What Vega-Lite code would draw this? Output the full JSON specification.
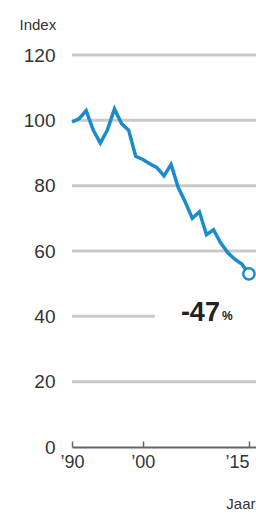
{
  "$schema": "https://vega.github.io/schema/vega-lite/v6.json",
  "width": 184,
  "height": 392,
  "autosize": "none",
  "padding": {"left": 72, "top": 55, "right": 0, "bottom": 68},
  "background": "white",
  "config": {
    "view": {"stroke": null},
    "font": "Liberation Sans"
  },
  "datasets": {
    "series": [
      {"year": 1990, "index": 99.5},
      {"year": 1991, "index": 100.5},
      {"year": 1992, "index": 103},
      {"year": 1993, "index": 97},
      {"year": 1994, "index": 93},
      {"year": 1995, "index": 97},
      {"year": 1996, "index": 103.5},
      {"year": 1997, "index": 99},
      {"year": 1998, "index": 97},
      {"year": 1999, "index": 89},
      {"year": 2000, "index": 88},
      {"year": 2001, "index": 86.7},
      {"year": 2002, "index": 85.5},
      {"year": 2003, "index": 83},
      {"year": 2004, "index": 86.5},
      {"year": 2005, "index": 79.5},
      {"year": 2006, "index": 75},
      {"year": 2007, "index": 70},
      {"year": 2008, "index": 72},
      {"year": 2009, "index": 65},
      {"year": 2010, "index": 66.5},
      {"year": 2011, "index": 62.5},
      {"year": 2012, "index": 59.5},
      {"year": 2013, "index": 57.5},
      {"year": 2014, "index": 56},
      {"year": 2015, "index": 53}
    ],
    "grid": [
      {"level": 120, "from": 1990, "to": 2016},
      {"level": 100, "from": 1990, "to": 2016},
      {"level": 80, "from": 1990, "to": 2016},
      {"level": 60, "from": 1990, "to": 2016},
      {"level": 40, "from": 1990, "to": 2001.7},
      {"level": 20, "from": 1990, "to": 2016}
    ],
    "note": [
      {"year": 2010.9, "level": 40, "change": "-47", "unit": "%"}
    ]
  },
  "layer": [
    {
      "data": {"name": "grid"},
      "mark": {"type": "rule", "color": "#c9c9c9", "strokeWidth": 3},
      "encoding": {
        "y": {"field": "level", "type": "quantitative", "scale": {"domain": [0, 120], "nice": false},
          "axis": {"values": [0, 20, 40, 60, 80, 100, 120], "grid": false, "domain": false, "ticks": false,
            "labelPadding": 17, "labelFontSize": 19, "labelColor": "#333",
            "title": "Index", "titleAngle": 0, "titleAlign": "left", "titleBaseline": "middle",
            "titleX": -53, "titleY": -31, "titleFontSize": 15, "titleFontWeight": "normal", "titleColor": "#333"}},
        "x": {"field": "from", "type": "quantitative", "scale": {"domain": [1990, 2016], "nice": false, "zero": false},
          "axis": {"values": [1990, 2000, 2015], "labelExpr": "'’' + substring(toString(datum.value), 2)",
            "grid": false, "domainColor": "#666", "domainWidth": 2, "tickColor": "#666", "tickWidth": 1.5, "tickSize": -6,
            "labelPadding": 12, "labelFontSize": 18, "labelColor": "#333", "labelFlush": false,
            "labelAlign": {"condition": {"test": "datum.value == 2015", "value": "right"}, "value": "center"},
            "title": "Jaar", "titleAnchor": "end", "titleAlign": "right", "titleBaseline": "middle",
            "titleX": 183, "titleY": 56, "titleFontSize": 15, "titleFontWeight": "normal", "titleColor": "#333"}},
        "x2": {"field": "to"}
      }
    },
    {
      "data": {"name": "series"},
      "mark": {"type": "line", "color": "#1a8ccc", "strokeWidth": 3.5, "strokeJoin": "miter"},
      "encoding": {
        "x": {"field": "year", "type": "quantitative"},
        "y": {"field": "index", "type": "quantitative"}
      }
    },
    {
      "data": {"name": "series"},
      "transform": [{"filter": "datum.year == 2015"}],
      "mark": {"type": "point", "filled": true, "fill": "white", "stroke": "#1a8ccc", "strokeWidth": 2.5, "size": 130, "opacity": 1},
      "encoding": {
        "x": {"field": "year", "type": "quantitative"},
        "y": {"field": "index", "type": "quantitative"}
      }
    },
    {
      "data": {"name": "note"},
      "mark": {"type": "text", "align": "right", "baseline": "middle", "fontSize": 27, "fontWeight": "bold", "color": "#222", "dy": -3},
      "encoding": {
        "x": {"field": "year", "type": "quantitative"},
        "y": {"field": "level", "type": "quantitative"},
        "text": {"field": "change"}
      }
    },
    {
      "data": {"name": "note"},
      "mark": {"type": "text", "align": "left", "baseline": "middle", "fontSize": 12, "fontWeight": "bold", "color": "#222", "dx": 2, "dy": 0},
      "encoding": {
        "x": {"field": "year", "type": "quantitative"},
        "y": {"field": "level", "type": "quantitative"},
        "text": {"field": "unit"}
      }
    }
  ]
}
